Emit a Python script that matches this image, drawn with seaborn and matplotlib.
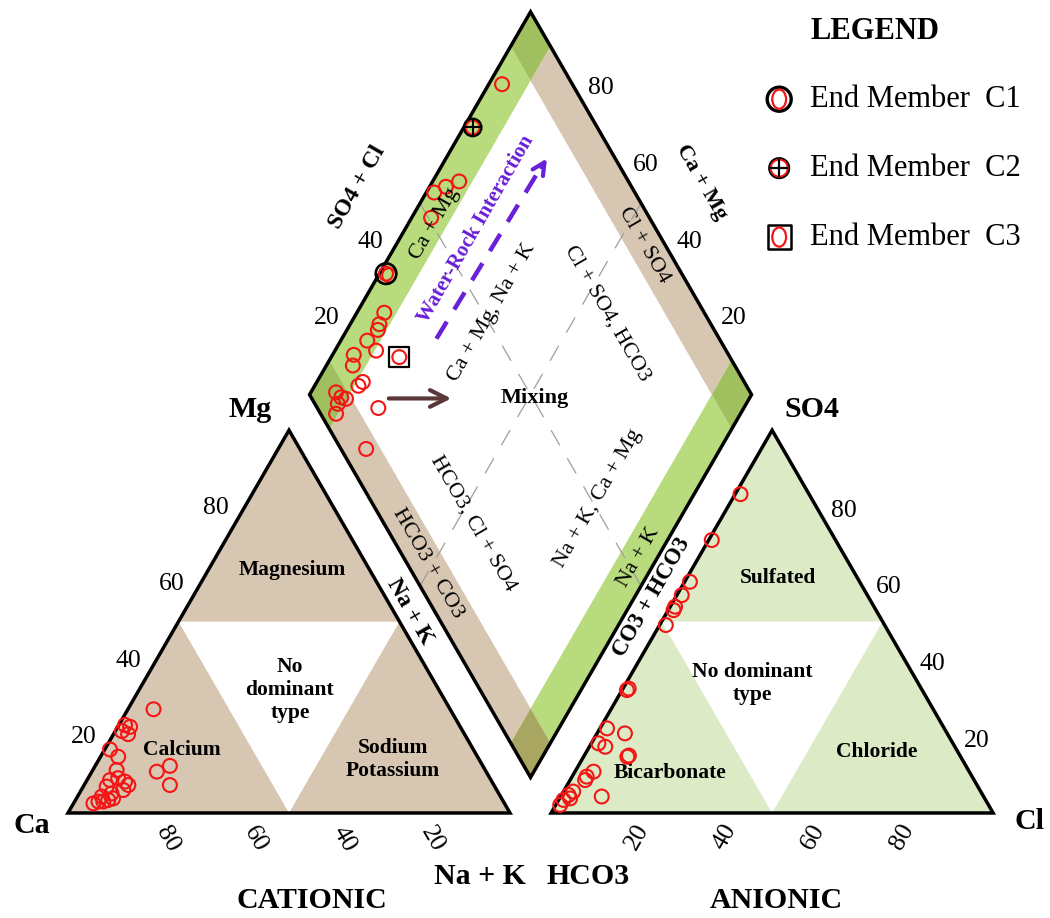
import numpy as np
import matplotlib
matplotlib.use("Agg")
import matplotlib.pyplot as plt
from matplotlib.patches import Polygon
from matplotlib.path import Path
from matplotlib.transforms import Affine2D
import seaborn as sns

# ---- sample composition, % of meq/L ----
# cation triangle: Mg and Na+K (Ca is the remainder)
cat_mg = [27.1, 23.0, 22.5, 21.4, 20.6, 16.6, 14.7, 11.2, 10.8, 12.3, 7.3,
          8.6, 9.1, 8.2, 7.3, 6.9, 6.0, 2.5, 3.0, 3.0, 3.4, 3.8, 5.1, 4.3]
cat_nak = [5.8, 1.4, 2.8, 1.5, 3.3, 1.2, 4.0, 5.4, 14.7, 16.9, 19.4,
           5.2, 6.8, 8.8, 10.0, 5.3, 9.5, 4.5, 5.4, 6.5, 7.4, 8.3, 7.3, 5.5]

# anion triangle: SO4 and Cl (HCO3 + CO3 is the remainder)
an_so4 = [83.3, 71.3, 60.4, 56.9, 53.9, 53.0, 49.1, 32.1, 32.5, 22.1, 20.8, 18.2,
          17.3, 14.7, 15.0, 10.8, 9.5, 8.6, 4.3, 5.6, 4.7, 3.4, 2.1, 3.8]
an_cl = [1.2, 0.7, 1.2, 1.1, 1.1, 1.2, 1.4, 1.1, 1.3, 1.6, 6.3, 1.6,
         3.6, 9.9, 10.1, 4.2, 3.3, 3.4, 9.3, 2.2, 1.6, 1.1, 1.0, 2.4]

# diamond: Ca+Mg and SO4+Cl
dia_camg = [97.0, 98.0, 94.0, 96.3, 98.2, 95.6, 98.5, 97.6, 93.8, 93.4,
            93.0, 94.0, 90.7, 95.2, 94.0, 84.6, 89.6, 90.1, 94.3, 92.5,
            91.2, 92.4, 91.5, 82.7, 80.1]
dia_so4cl = [84.1, 71.8, 61.7, 58.0, 54.6, 50.6, 33.1, 33.6, 27.6, 25.0,
             23.9, 20.1, 20.8, 15.2, 13.6, 25.2, 13.7, 12.2, 6.3, 6.8,
             7.7, 5.2, 3.5, 13.8, 5.7]

# end members (diamond position)
em_names = ["C1", "C2", "C3"]
em_camg = [98.5, 98.0, 84.6]
em_so4cl = [33.1, 71.8, 25.2]

tick_values = [20, 40, 60, 80]
diamond_left_ticks = [20, 40]

# ---- style ----
sns.set_theme(style="white")
plt.rcParams["font.family"] = ["Liberation Serif", "DejaVu Serif"]
plt.rcParams["text.color"] = "black"

TAN = "#D7C6B2"
LIGHT_GREEN = "#DCEAC6"
BAND_GREEN = "#B7DB7D"
DARK_GREEN = "#A0C05F"
OLIVE = "#A8A660"
RED = "#F51515"
PURPLE = "#6A1FD8"
BROWN = "#5A3838"

SIN60 = np.sin(np.pi / 3)
GAP = 9.3
BAND = 9.0


def cation_xy(mg, nak):
    mg, nak = np.asarray(mg, float), np.asarray(nak, float)
    return nak + mg / 2, mg * SIN60


def anion_xy(so4, cl):
    so4, cl = np.asarray(so4, float), np.asarray(cl, float)
    return 100 + GAP + cl + so4 / 2, so4 * SIN60


BOTTOM = (100 + GAP / 2, GAP * SIN60)


def diamond_xy(camg, so4cl):
    camg, so4cl = np.asarray(camg, float), np.asarray(so4cl, float)
    return BOTTOM[0] + (so4cl - camg) / 2, BOTTOM[1] + (camg + so4cl) * SIN60


def poly(ax, pts, **kw):
    ax.add_patch(Polygon(np.column_stack(pts), closed=True, **kw))


fig = plt.figure(figsize=(10.5, 9.18), dpi=100)
ax = fig.add_axes([0, 0, 1, 1])
ax.set_xlim(-15.385, 222.17)
ax.set_ylim(-23.76, 183.94)
ax.axis("off")

# ---- cation triangle ----
for mg, nak in [([0, 0, 50], [0, 50, 0]),
                ([100, 50, 50], [0, 0, 50]),
                ([0, 0, 50], [100, 50, 50])]:
    poly(ax, cation_xy(mg, nak), facecolor=TAN, edgecolor="none", zorder=1)
poly(ax, cation_xy([0, 100, 0], [0, 0, 100]), fill=False, edgecolor="black",
     lw=2.5, joinstyle="miter", zorder=3)

# ---- anion triangle ----
for so4, cl in [([0, 0, 50], [0, 50, 0]),
                ([100, 50, 50], [0, 0, 50]),
                ([0, 0, 50], [100, 50, 50])]:
    poly(ax, anion_xy(so4, cl), facecolor=LIGHT_GREEN, edgecolor="none", zorder=1)
poly(ax, anion_xy([0, 100, 0], [0, 0, 100]), fill=False, edgecolor="black",
     lw=2.5, joinstyle="miter", zorder=3)


# ---- diamond with coloured borders ----
def dia_rect(c0, c1, s0, s1, color):
    poly(ax, diamond_xy([c0, c1, c1, c0], [s0, s0, s1, s1]),
         facecolor=color, edgecolor="none", zorder=1)


hi = 100 - BAND
dia_rect(hi, 100, BAND, hi, BAND_GREEN)      # Ca+Mg side
dia_rect(0, BAND, BAND, hi, BAND_GREEN)      # Na+K side
dia_rect(BAND, hi, hi, 100, TAN)             # Cl+SO4 side
dia_rect(BAND, hi, 0, BAND, TAN)             # HCO3+CO3 side
dia_rect(hi, 100, hi, 100, DARK_GREEN)
dia_rect(hi, 100, 0, BAND, DARK_GREEN)
dia_rect(0, BAND, hi, 100, DARK_GREEN)
dia_rect(0, BAND, 0, BAND, OLIVE)
poly(ax, diamond_xy([0, 100, 100, 0], [0, 0, 100, 100]), fill=False,
     edgecolor="black", lw=2.5, joinstyle="miter", zorder=3)

# 50 % dividing lines
for c, s in [([50, 50], [0, 100]), ([0, 100], [50, 50])]:
    x, y = diamond_xy(c, s)
    ax.plot(x, y, color="#9E9E9E", lw=0.9, dashes=(14, 12), zorder=2)

# ---- data points ----
cx, cy = cation_xy(cat_mg, cat_nak)
axx, ayy = anion_xy(an_so4, an_cl)
dx, dy = diamond_xy(dia_camg, dia_so4cl)
for xs, ys in [(cx, cy), (axx, ayy), (dx, dy)]:
    sns.scatterplot(x=xs, y=ys, ax=ax, s=100, marker="o", facecolor="none",
                    edgecolor=RED, linewidth=1.5, legend=False, zorder=5)

ex, ey = diamond_xy(em_camg, em_so4cl)
ax.scatter(ex[0], ey[0], s=220, marker="o", facecolor="none",
           edgecolor="black", linewidth=1.9, zorder=6)
ax.scatter(ex[1], ey[1], s=160, marker="o", facecolor="none",
           edgecolor="black", linewidth=1.6, zorder=6)
ax.scatter(ex[1], ey[1], s=140, marker="+", color="black", linewidth=1.5, zorder=6)
ax.scatter(ex[2], ey[2], s=200, marker="s", facecolor="none",
           edgecolor="black", linewidth=1.6, zorder=6)

# ---- tick labels ----
TICK = 18.5
for v in tick_values:
    ax.annotate(str(v), cation_xy(v, 0), xytext=(-20.5, -0.7), textcoords="offset points",
                ha="center", va="center", fontsize=TICK)
    ax.annotate(str(v), cation_xy(0, 100 - v), xytext=(8, -19), textcoords="offset points",
                ha="center", va="center", fontsize=TICK, rotation=-60)
    ax.annotate(str(v), anion_xy(0, v), xytext=(-2, -17), textcoords="offset points",
                ha="center", va="center", fontsize=TICK, rotation=60)
    ax.annotate(str(v), anion_xy(v, 100 - v), xytext=(20, -3), textcoords="offset points",
                ha="center", va="center", fontsize=TICK)
    ax.annotate(str(v), diamond_xy(v, 100), xytext=(19, 0), textcoords="offset points",
                ha="center", va="center", fontsize=TICK)
for v in diamond_left_ticks:
    ax.annotate(str(v), diamond_xy(100, v), xytext=(-19.5, 0), textcoords="offset points",
                ha="center", va="center", fontsize=TICK)

# ---- axis titles ----
BIG = 21.5
bold = dict(fontweight="bold", ha="center", va="center")
ax.text(41.2, 91.2, "Mg", fontsize=BIG, **bold)
ax.text(-8.1, -2.9, "Ca", fontsize=BIG, **bold)
ax.text(93.2, -14.3, "Na + K", fontsize=BIG, **bold)
ax.text(55.2, -19.7, "CATIONIC", fontsize=BIG, **bold)
ax.text(168.3, 91.2, "SO4", fontsize=BIG, **bold)
ax.text(117.6, -14.3, "HCO3", fontsize=BIG, **bold)
ax.text(217.6, -2.0, "Cl", fontsize=BIG, **bold)
ax.text(160.2, -19.7, "ANIONIC", fontsize=BIG, **bold)

ax.text(65.4, 141.6, "SO4 + Cl", fontsize=17, rotation=60, **bold)
ax.text(143.4, 142.8, "Ca + Mg", fontsize=16, rotation=-60, **bold)
ax.text(77.4, 45.5, "Na + K", fontsize=17, rotation=-60, **bold)
ax.text(132.1, 48.9, "CO3 + HCO3", fontsize=16.5, rotation=60, **bold)

# ---- water type fields ----
REG = 15.5
ax.text(50.7, 55.0, "Magnesium", fontsize=REG, **bold)
ax.text(50.2, 27.8, "No\ndominant\ntype", fontsize=REG, **bold)
ax.text(25.8, 14.3, "Calcium", fontsize=REG, **bold)
ax.text(73.5, 12.0, "Sodium\nPotassium", fontsize=REG, **bold)
ax.text(160.6, 53.2, "Sulfated", fontsize=REG, **bold)
ax.text(154.8, 29.4, "No dominant\ntype", fontsize=REG, **bold)
ax.text(136.2, 9.0, "Bicarbonate", fontsize=REG, **bold)
ax.text(183.0, 13.8, "Chloride", fontsize=REG, **bold)


def dtext(camg, so4cl, s, rot=0, **kw):
    x, y = diamond_xy(camg, so4cl)
    kw.setdefault("fontsize", 16)
    ax.text(x, y, s, rotation=rot, ha="center", va="center", zorder=7, **kw)


dtext(94.0, 50.5, "Ca + Mg", 60)
dtext(69.4, 52.0, "Ca + Mg, Na + K", 60)
dtext(43.8, 95.1, "Cl + SO4", -60)
dtext(43.1, 78.0, "Cl + SO4, HCO3", -60)
dtext(48.5, 50.5, "Mixing", fontweight="bold")
dtext(46.2, 20.2, "HCO3, Cl + SO4", -60)
dtext(51.3, 4.7, "HCO3 + CO3", -60)
dtext(21.2, 51.7, "Na + K, Ca + Mg", 60)
dtext(4.2, 53.3, "Na + K", 60)
dtext(84.0, 59.3, "Water-Rock Interaction", 60, fontweight="bold",
      color=PURPLE, fontsize=15)

# water-rock interaction trend
x0, y0 = diamond_xy([78.6, 77.4], [36.0, 80.0])
ax.plot(x0, y0, color=PURPLE, lw=3.2, dashes=(4.5, 3.2), solid_capstyle="butt", zorder=7)
ax.annotate("", xy=diamond_xy(77.1, 85.2), xytext=diamond_xy(77.3, 81.5),
            arrowprops=dict(arrowstyle="->", color=PURPLE, lw=3,
                            mutation_scale=22), zorder=7)

# mixing arrow
ax.annotate("", xy=diamond_xy(66.8, 32.2), xytext=diamond_xy(82.2, 16.8),
            arrowprops=dict(arrowstyle="->", color=BROWN, lw=3,
                            mutation_scale=30), zorder=7)

# ---- legend ----
ax.text(182.6, 176.7, "LEGEND", fontsize=22, **bold)
ellipse = Path.unit_circle().transformed(Affine2D().scale(0.72, 1.0))
leg_x = 160.9
leg_y = [161.5, 145.9, 130.3]
ax.scatter(leg_x, leg_y[0], s=300, marker="o", facecolor="none",
           edgecolor="black", linewidth=2.4, zorder=6)
ax.scatter(leg_x, leg_y[0], s=190, marker=ellipse, facecolor="none",
           edgecolor=RED, linewidth=1.6, zorder=7)
ax.scatter(leg_x, leg_y[1], s=200, marker="o", facecolor="none",
           edgecolor="black", linewidth=1.8, zorder=6)
ax.scatter(leg_x, leg_y[1], s=150, marker="o", facecolor="none",
           edgecolor=RED, linewidth=1.4, zorder=7)
ax.scatter(leg_x, leg_y[1], s=180, marker="+", color="black", linewidth=1.6, zorder=8)
ax.scatter(leg_x, leg_y[2], s=280, marker="s", facecolor="none",
           edgecolor="black", linewidth=1.8, zorder=6)
ax.scatter(leg_x, leg_y[2], s=190, marker=ellipse, facecolor="none",
           edgecolor=RED, linewidth=1.6, zorder=7)
for yv, name in zip(leg_y, em_names):
    ax.text(167.9, yv, f"End Member  {name}", fontsize=22, ha="left", va="center")

fig.savefig("out.png", dpi=100)
